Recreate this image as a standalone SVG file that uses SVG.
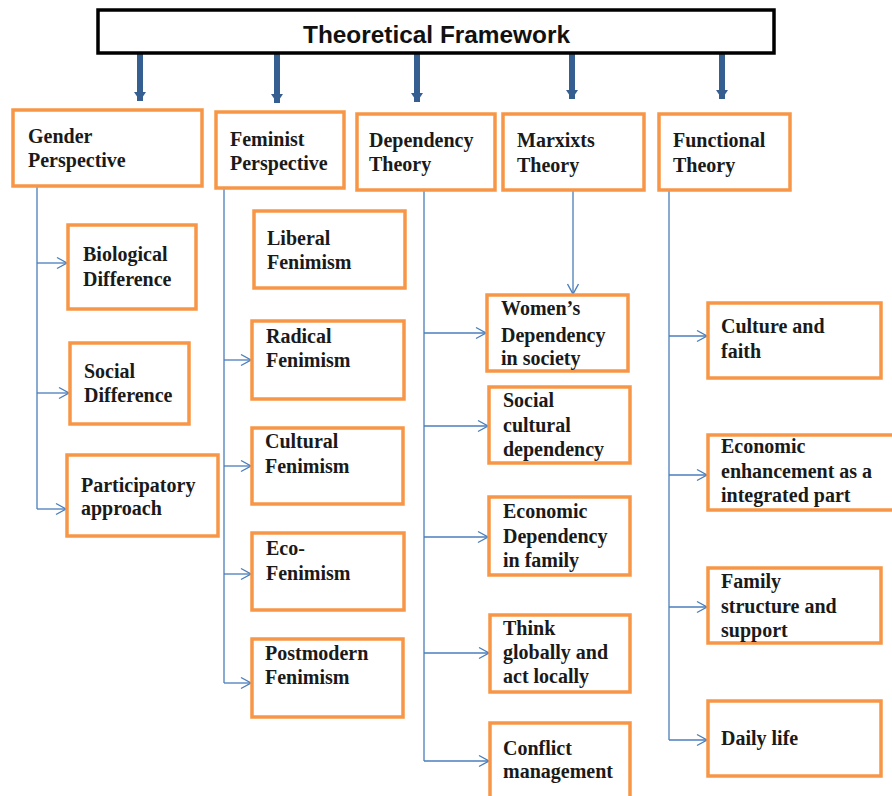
<svg xmlns="http://www.w3.org/2000/svg" width="892" height="796" viewBox="0 0 892 796">
<style>
.box{fill:#ffffff;stroke:#f79646;stroke-width:3.5}
.title{fill:#ffffff;stroke:#000000;stroke-width:3.5}
.t{font-family:"Liberation Serif","Times New Roman",serif;font-weight:bold;font-size:20px;fill:#1a1a1a}
.tt{font-family:"Liberation Sans",Arial,sans-serif;font-weight:bold;font-size:24px;fill:#111111}
.c{fill:none;stroke:#4a7ebb;stroke-width:1.3}
.thick{fill:none;stroke:#365f91;stroke-width:6}
</style>
<defs>
<marker id="open" markerUnits="userSpaceOnUse" markerWidth="14" markerHeight="14" refX="11" refY="7" orient="auto">
<path d="M1,1.5 L11,7 L1,12.5" fill="none" stroke="#4a7ebb" stroke-width="1.4"/>
</marker>
<marker id="solid" markerUnits="userSpaceOnUse" markerWidth="14" markerHeight="12" refX="9" refY="6" orient="auto">
<path d="M0,0 L9,6 L0,12 Z" fill="#365f91"/>
</marker>
</defs>
<rect width="892" height="796" fill="#ffffff"/>

<g id="connectors">
<line class="thick" x1="140" y1="53" x2="140" y2="101" marker-end="url(#solid)"/>
<line class="thick" x1="277" y1="53" x2="277" y2="103" marker-end="url(#solid)"/>
<line class="thick" x1="417" y1="53" x2="417" y2="102" marker-end="url(#solid)"/>
<line class="thick" x1="572" y1="53" x2="572" y2="99" marker-end="url(#solid)"/>
<line class="thick" x1="722" y1="53" x2="722" y2="99" marker-end="url(#solid)"/>

<path class="c" d="M37,186 V509"/>
<path class="c" d="M37,263 H67" marker-end="url(#open)"/>
<path class="c" d="M37,393 H69" marker-end="url(#open)"/>
<path class="c" d="M37,509 H66" marker-end="url(#open)"/>

<path class="c" d="M224,188 V683"/>
<path class="c" d="M224,360 H251" marker-end="url(#open)"/>
<path class="c" d="M224,466 H251" marker-end="url(#open)"/>
<path class="c" d="M224,574 H251" marker-end="url(#open)"/>
<path class="c" d="M224,683 H251" marker-end="url(#open)"/>

<path class="c" d="M424,190 V761"/>
<path class="c" d="M424,333 H486" marker-end="url(#open)"/>
<path class="c" d="M424,426 H488" marker-end="url(#open)"/>
<path class="c" d="M424,537 H488" marker-end="url(#open)"/>
<path class="c" d="M424,653 H489" marker-end="url(#open)"/>
<path class="c" d="M424,761 H489" marker-end="url(#open)"/>

<path class="c" d="M573,190 V294" marker-end="url(#open)"/>

<path class="c" d="M669,190 V740"/>
<path class="c" d="M669,336 H707" marker-end="url(#open)"/>
<path class="c" d="M669,475 H707" marker-end="url(#open)"/>
<path class="c" d="M669,607 H707" marker-end="url(#open)"/>
<path class="c" d="M669,740 H707" marker-end="url(#open)"/>
</g>

<g id="title">
<rect class="title" x="98" y="10" width="676" height="43"/>
<text class="tt" x="303" y="43" textLength="267" lengthAdjust="spacingAndGlyphs">Theoretical Framework</text>
</g>

<g id="gender">
<rect class="box" x="13" y="110" width="189" height="76"/>
<text class="t" x="28" y="143">Gender</text>
<text class="t" x="28" y="167">Perspective</text>
</g>
<g id="feminist">
<rect class="box" x="216" y="112" width="128" height="76"/>
<text class="t" x="230" y="146">Feminist</text>
<text class="t" x="230" y="170">Perspective</text>
</g>
<g id="dependency">
<rect class="box" x="357" y="114" width="138" height="76"/>
<text class="t" x="369" y="147">Dependency</text>
<text class="t" x="369" y="171">Theory</text>
</g>
<g id="marxixts">
<rect class="box" x="503" y="114" width="141" height="76"/>
<text class="t" x="517" y="147">Marxixts</text>
<text class="t" x="517" y="172">Theory</text>
</g>
<g id="functional">
<rect class="box" x="659" y="114" width="131" height="76"/>
<text class="t" x="673" y="147">Functional</text>
<text class="t" x="673" y="172">Theory</text>
</g>

<g id="biological">
<rect class="box" x="68" y="225" width="128" height="84"/>
<text class="t" x="83" y="261">Biological</text>
<text class="t" x="83" y="286">Difference</text>
</g>
<g id="social">
<rect class="box" x="70" y="343" width="119" height="81"/>
<text class="t" x="84" y="378">Social</text>
<text class="t" x="84" y="402">Difference</text>
</g>
<g id="participatory">
<rect class="box" x="67" y="455" width="151" height="81"/>
<text class="t" x="81" y="492">Participatory</text>
<text class="t" x="81" y="515">approach</text>
</g>

<g id="liberal">
<rect class="box" x="254" y="211" width="151" height="77"/>
<text class="t" x="267" y="245">Liberal</text>
<text class="t" x="267" y="269">Fenimism</text>
</g>
<g id="radical">
<rect class="box" x="252" y="321" width="152" height="78"/>
<text class="t" x="266" y="343">Radical</text>
<text class="t" x="266" y="367">Fenimism</text>
</g>
<g id="cultural">
<rect class="box" x="252" y="428" width="151" height="76"/>
<text class="t" x="265" y="448">Cultural</text>
<text class="t" x="265" y="473">Fenimism</text>
</g>
<g id="eco">
<rect class="box" x="252" y="533" width="152" height="77"/>
<text class="t" x="266" y="555">Eco-</text>
<text class="t" x="266" y="580">Fenimism</text>
</g>
<g id="postmodern">
<rect class="box" x="252" y="639" width="151" height="78"/>
<text class="t" x="265" y="660">Postmodern</text>
<text class="t" x="265" y="684">Fenimism</text>
</g>

<g id="womens">
<rect class="box" x="487" y="295" width="141" height="76"/>
<text class="t" x="501" y="315">Women’s</text>
<text class="t" x="501" y="342">Dependency</text>
<text class="t" x="501" y="365">in society</text>
</g>
<g id="socialcultural">
<rect class="box" x="489" y="387" width="141" height="76"/>
<text class="t" x="503" y="407">Social</text>
<text class="t" x="503" y="432">cultural</text>
<text class="t" x="503" y="456">dependency</text>
</g>
<g id="economicdep">
<rect class="box" x="489" y="497" width="141" height="78"/>
<text class="t" x="503" y="518">Economic</text>
<text class="t" x="503" y="543">Dependency</text>
<text class="t" x="503" y="567">in family</text>
</g>
<g id="think">
<rect class="box" x="490" y="615" width="140" height="77"/>
<text class="t" x="503" y="635">Think</text>
<text class="t" x="503" y="659">globally and</text>
<text class="t" x="503" y="683">act locally</text>
</g>
<g id="conflict">
<rect class="box" x="490" y="723" width="140" height="90"/>
<text class="t" x="503" y="755">Conflict</text>
<text class="t" x="503" y="778">management</text>
</g>

<g id="culture">
<rect class="box" x="708" y="303" width="173" height="75"/>
<text class="t" x="721" y="333">Culture and</text>
<text class="t" x="721" y="358">faith</text>
</g>
<g id="economicenh">
<rect class="box" x="708" y="435" width="200" height="75"/>
<text class="t" x="721" y="453">Economic</text>
<text class="t" x="721" y="478">enhancement as a</text>
<text class="t" x="721" y="502">integrated part</text>
</g>
<g id="family">
<rect class="box" x="708" y="568" width="173" height="75"/>
<text class="t" x="721" y="588">Family</text>
<text class="t" x="721" y="613">structure and</text>
<text class="t" x="721" y="637">support</text>
</g>
<g id="daily">
<rect class="box" x="708" y="701" width="173" height="75"/>
<text class="t" x="721" y="745">Daily life</text>
</g>
</svg>
